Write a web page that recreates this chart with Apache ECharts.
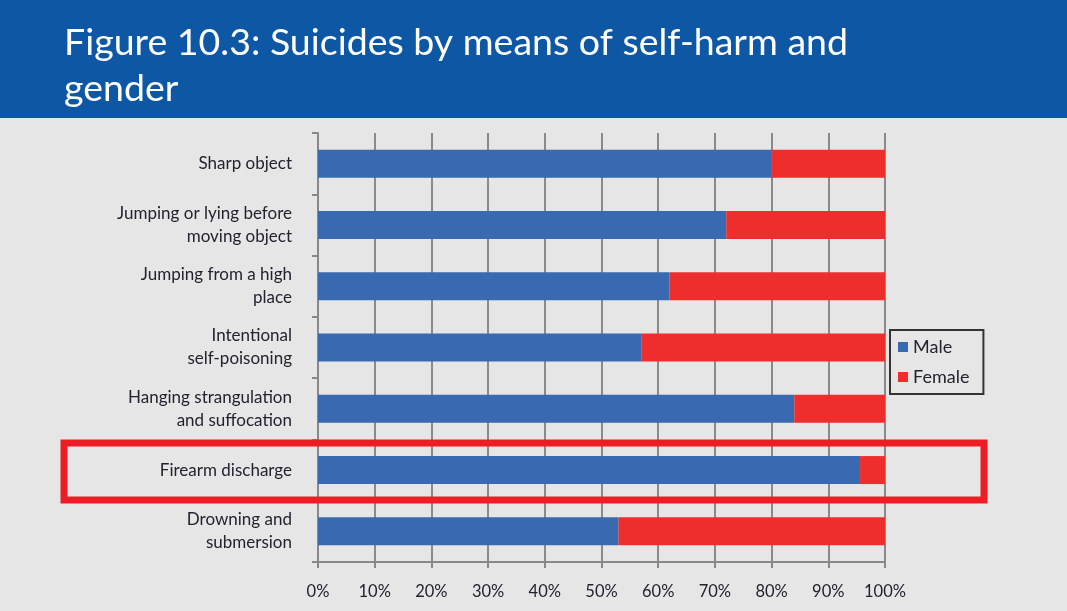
<!DOCTYPE html>
<html><head><meta charset="utf-8">
<script src="https://cdn.jsdelivr.net/npm/echarts@6/dist/echarts.min.js"></script>
<style>html,body{margin:0;padding:0;background:#e6e6e6;}#c{width:1067px;height:611px;}</style>
</head><body><div id="c"></div>
<script>
const categories = ["Sharp object","Jumping or lying before\nmoving object","Jumping from a high\nplace","Intentional\nself-poisoning","Hanging strangulation\nand suffocation","Firearm discharge","Drowning and\nsubmersion"];
const maleValues = [80, 72, 62, 57, 84, 95.6, 53];
const femaleValues = [20, 28, 38, 43, 16, 4.4, 47];
const xTicks = [0,10,20,30,40,50,60,70,80,90,100];

const chart = echarts.init(document.getElementById('c'));
chart.setOption({
  backgroundColor: '#e6e6e6',
  animation: false,
  title: {
    text: 'Figure 10.3: Suicides by means of self-harm and\ngender',
    left: 59, top: 15,
    textStyle: {color: '#ffffff', fontFamily: 'Lato', fontSize: 37.5, fontWeight: 'normal', lineHeight: 46}
  },
  graphic: [
    {type: 'rect', z: -1, shape: {x: 0, y: 0, width: 1067, height: 118}, style: {fill: '#0d57a5'}},
    {type: 'rect', z: 10, shape: {x: 64, y: 443, width: 920, height: 57}, style: {fill: 'none', stroke: '#ee1c25', lineWidth: 7}}
  ],
  legend: {
    orient: 'vertical', left: 890, top: 330,
    data: ['Male','Female'],
    icon: 'rect', itemWidth: 10, itemHeight: 10, itemGap: 12,
    borderColor: '#333', borderWidth: 2, padding: [8, 14, 8, 8],
    textStyle: {fontFamily: 'Lato', fontSize: 18, color: '#232330'}
  },
  grid: {left: 318, right: 182, top: 133, bottom: 49, containLabel: false},
  xAxis: {
    type: 'value', min: 0, max: 100, interval: 10,
    axisLine: {show: true, lineStyle: {color: '#888', width: 2}},
    axisTick: {show: true, length: 6, lineStyle: {color: '#888', width: 2}},
    splitLine: {show: true, lineStyle: {color: '#8a8a8a', width: 2}},
    axisLabel: {formatter: function(v){ return xTicks.indexOf(v) >= 0 ? v + '%' : ''; }, fontFamily: 'Lato', fontSize: 16.5, color: '#232330', margin: 21}
  },
  yAxis: {
    type: 'category', inverse: true, data: categories,
    axisLine: {show: true, lineStyle: {color: '#888', width: 2}},
    axisTick: {show: true, length: 6, lineStyle: {color: '#888', width: 2}},
    axisLabel: {fontFamily: 'Lato', fontSize: 17, color: '#232330', margin: 26, lineHeight: 23, align: 'right'}
  },
  series: [
    {name: 'Male', type: 'bar', stack: 'a', data: maleValues, barWidth: 28, itemStyle: {color: '#3869b1'}},
    {name: 'Female', type: 'bar', stack: 'a', data: femaleValues, barWidth: 28, itemStyle: {color: '#ee2e2c'}}
  ]
});
</script></body></html>
